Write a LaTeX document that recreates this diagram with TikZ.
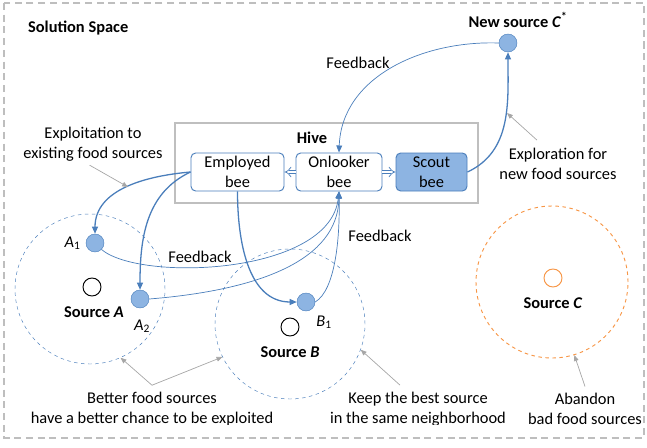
\documentclass[tikz,border=0pt]{standalone}
\usepackage{fontspec}
\setmainfont{Carlito}
\usepackage{tikz}
\usetikzlibrary{arrows.meta, positioning}
\definecolor{beeblue}{HTML}{4A7EBB}
\definecolor{beefill}{HTML}{8DB4E2}
\definecolor{hivegray}{HTML}{BFBFBF}
\definecolor{notegray}{HTML}{A6A6A6}
\definecolor{framegray}{HTML}{BEBEBE}
\definecolor{badorange}{HTML}{F79646}
\newcommand{\notefont}{\fontsize{14}{17}\selectfont}
\tikzset{
  beebox/.style={
    rectangle, rounded corners=4pt, draw=beeblue, thick, fill=white,
    minimum width=2.79cm, minimum height=1.14cm, inner sep=1pt,
    align=center, font=\notefont
  },
  scoutbox/.style={beebox, fill=beefill, minimum width=2.13cm},
  trial/.style={circle, draw=beeblue, fill=beefill, minimum size=0.54cm, inner sep=0pt},
  foodsrc/.style={circle, draw=black, thick, fill=white, minimum size=0.54cm, inner sep=0pt},
  nbhd/.style={circle, draw=beeblue, dashed, thin, minimum size=4.5cm, inner sep=0pt},
  label/.style={font=\notefont, align=center},
  boldlabel/.style={font=\notefont\bfseries, align=center},
  beearrow/.style={-{Triangle[length=6pt, width=5pt]}, beeblue, line width=1.1pt},
  fbarrow/.style={-{Triangle[length=6pt, width=5pt]}, beeblue, line width=0.6pt},
  hollow/.style={-Implies, double, double distance=2.5pt, draw=beeblue, line width=0.6pt},
  notearrow/.style={-{Triangle[length=5pt, width=4pt]}, notegray, line width=0.6pt},
}

\begin{document}
\begin{tikzpicture}[x=0.03cm, y=-0.03cm]
  \useasboundingbox (0,0) rectangle (647,447);

  % solution space frame
  \draw[framegray, dashed, line width=1.2pt, dash pattern=on 6pt off 4pt] (4,3) rectangle (644,438);
  \node[boldlabel, anchor=west] (space) at (24,28) {Solution Space};

  % hive and its bees
  \draw[hivegray, line width=2pt] (175,123) rectangle (478,203);
  \node[boldlabel] (hive) at (312,138) {Hive};
  \node[beebox] (emp) at (237.5,172) {Employed\\bee};
  \node[beebox, minimum width=2.58cm] (onl) at (339,172) {Onlooker\\bee};
  \node[scoutbox] (scout) at (431.5,172) {Scout\\bee};
  \draw[hollow] (onl.west) -- (emp.east);
  \draw[hollow] (onl.east) -- (scout.west);

  % neighbourhoods of the food sources
  \node[nbhd] (nbA) at (90,289) {};
  \node[nbhd] (nbB) at (290,324) {};
  \node[nbhd, draw=badorange, thick, minimum size=4.56cm] (nbC) at (552,282) {};

  \node[foodsrc] (srcA) at (92,287) {};
  \node[boldlabel] at (94,312) {Source \textit{A}};
  \node[foodsrc] (srcB) at (290,327) {};
  \node[boldlabel] at (290,352) {Source \textit{B}};
  \node[foodsrc, draw=badorange] (srcC) at (553,278) {};
  \node[boldlabel] at (553,303) {Source \textit{C}};

  % candidate solutions
  \node[trial] (a1) at (95,243) {};
  \node[label, left=1pt of a1] {\textit{A}\textsubscript{1}};
  \node[trial] (a2) at (140,299) {};
  \node[label] at (142,326) {\textit{A}\textsubscript{2}};
  \node[trial] (b1) at (306,302) {};
  \node[label] at (324,322) {\textit{B}\textsubscript{1}};
  \node[trial] (newC) at (508,43) {};
  \node[boldlabel] at (518,20) {New source \textit{C}\textsuperscript{*}};

  % bees going out
  \draw[beearrow] (emp.west) to[out=185, in=90] (a1.north);
  \draw[beearrow] (emp.west) to[out=205, in=90] (a2.north);
  \draw[beearrow] (emp.south) to[out=-90, in=180] (b1.west);
  \draw[beearrow] (scout.east) to[out=25, in=-90] (newC.south);

  % feedback to the onlookers
  \draw[fbarrow] (newC.west) to[out=178, in=88] (onl.north);
  \draw[fbarrow] (a1.south east) .. controls (140,282) and (330,275) .. (onl.south);
  \draw[fbarrow] (a2.east) .. controls (260,290) and (338,260) .. (onl.south);
  \draw[fbarrow] (b1.east) .. controls (335,290) and (340,240) .. (onl.south);
  \node[label] (fb1) at (358,63) {Feedback};
  \node[label] (fb2) at (200,257) {Feedback};
  \node[label] (fb3) at (380,236) {Feedback};

  % notes
  \node[label] (exploit) at (93,144) {Exploitation to\\existing food sources};
  \coordinate (toA) at (128,187);
  \draw[notearrow] ([xshift=-0.1cm]exploit.south) -- (toA);

  \node[label] (explore) at (558,164) {Exploration for\\new food sources};
  \coordinate (toC) at (507,113);
  \draw[notearrow] ([xshift=-0.63cm, yshift=0.12cm]explore.north) -- (toC);

  \begin{scope}
    \clip (0,0) rectangle (647,424);
    \node[label] (better) at (152,409) {Better food sources\\have a better chance to be exploited};
    \node[label] (keep) at (418,409) {Keep the best source\\in the same neighborhood};
    \node[label] (abandon) at (585,409) {Abandon\\bad food sources};
  \end{scope}
  \draw[notearrow] ([yshift=0.08cm]better.north) -- (nbA.-66);
  \draw[notearrow] ([yshift=0.08cm]better.north) -- (nbB.206);
  \draw[notearrow] ([xshift=-0.54cm, yshift=0.08cm]keep.north) -- (nbB.-20);
  \draw[notearrow] ([yshift=0.08cm]abandon.north) -- (nbC.-73);
\end{tikzpicture}
\end{document}
